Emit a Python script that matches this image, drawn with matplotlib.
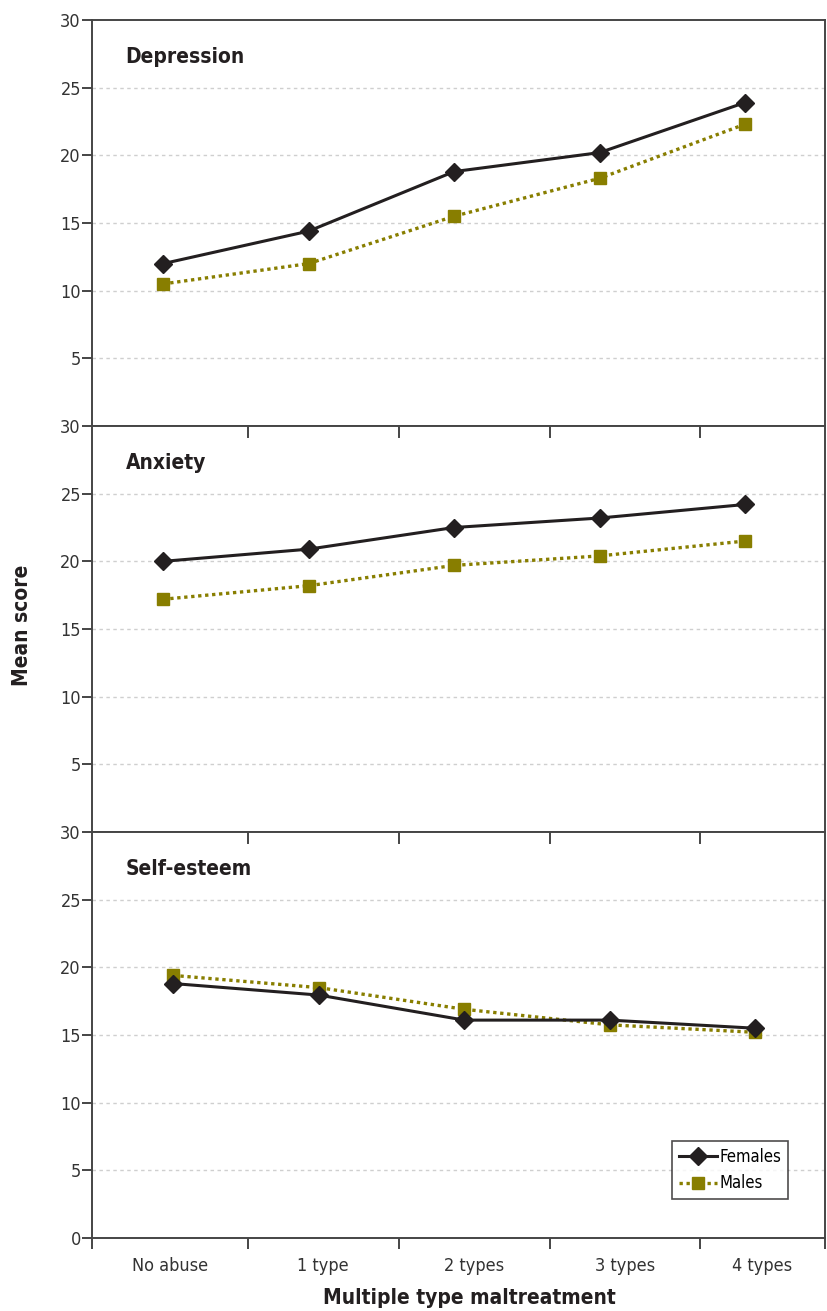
# Mean scores by number of maltreatment types, females vs males, three stacked panels

import matplotlib
matplotlib.use("Agg")
import matplotlib.pyplot as plt

plt.rcParams["font.family"] = ["DejaVu Sans"]
plt.rcParams["font.stretch"] = "condensed"

# --- Data ---
categories = ["No abuse", "1 type", "2 types", "3 types", "4 types"]
panels = ["Depression", "Anxiety", "Self-esteem"]

depression_f = [12.0, 14.4, 18.8, 20.2, 23.9]
depression_m = [10.5, 12.0, 15.5, 18.3, 22.3]
anxiety_f = [20.0, 20.9, 22.5, 23.2, 24.2]
anxiety_m = [17.2, 18.2, 19.7, 20.4, 21.5]
selfesteem_f = [18.8, 17.95, 16.1, 16.1, 15.5]
selfesteem_m = [19.4, 18.5, 16.9, 15.75, 15.2]

females = [depression_f, anxiety_f, selfesteem_f]
males = [depression_m, anxiety_m, selfesteem_m]

# --- Style ---
BLACK = "#231f20"
OLIVE = "#887e00"
SPINE = "#454545"
GRID = "#cfcfcf"

XLIM = (-0.49, 4.55)
# category boundaries (ticks) and label centres
bounds = [XLIM[0], 0.58, 1.62, 2.66, 3.69, XLIM[1]]
centres = [(a + b) / 2 for a, b in zip(bounds[:-1], bounds[1:])]
x_shift = [0.0, 0.0, 0.07]  # bottom panel points sit a touch to the right

fig = plt.figure(figsize=(8.27, 13.11), dpi=100)
top, bottom, left, right = 1 - 20 / 1311, 1 - 1238 / 1311, 92 / 827, 825 / 827
h = (top - bottom) / 3

axes = []
for i in range(3):
    ax = fig.add_axes([left, top - (i + 1) * h, right - left, h])
    axes.append(ax)

for i, ax in enumerate(axes):
    xs = [k + x_shift[i] for k in range(len(categories))]
    ax.plot(xs, males[i], color=OLIVE, lw=2.4, linestyle=(0, (1, 1.1)),
            marker="s", markersize=8.8, markeredgecolor=OLIVE, markerfacecolor=OLIVE,
            label="Males", zorder=3)
    ax.plot(xs, females[i], color=BLACK, lw=2.2, linestyle="-",
            marker="D", markersize=9.5, markeredgecolor=BLACK, markerfacecolor=BLACK,
            label="Females", zorder=4)

    ax.set_xlim(*XLIM)
    ax.set_ylim(0, 30)

    # horizontal dotted grid
    for g in [5, 10, 15, 20, 25]:
        ax.axhline(g, color=GRID, lw=1.0, linestyle=(0, (2.5, 2.5)), zorder=1)

    for s in ax.spines.values():
        s.set_color(SPINE)
        s.set_linewidth(1.4)

    # y axis
    yt = [0, 5, 10, 15, 20, 25, 30] if i == 2 else [5, 10, 15, 20, 25, 30]
    ax.set_yticks(yt)
    ax.tick_params(axis="y", direction="out", length=7, width=1.4, color=SPINE,
                   labelsize=13, labelcolor="#333333", pad=1)

    # x axis: boundary ticks as major, labels on minor
    ax.set_xticks(bounds)
    ax.set_xticklabels([])
    ax.set_xticks(centres, minor=True)
    if i == 2:
        ax.set_xticklabels(categories, minor=True)
        ax.tick_params(axis="x", which="major", direction="out", length=8, width=1.4,
                       color=SPINE, top=False, bottom=True)
        ax.tick_params(axis="x", which="minor", length=0, labelsize=13,
                       labelcolor="#333333", pad=14)
    else:
        ax.tick_params(axis="x", which="minor", length=0, labelbottom=False)
        ax.tick_params(axis="x", which="major", bottom=False, top=False)
    if i > 0:
        # inward boundary ticks at the top edge of lower panels
        for b in bounds[1:-1]:
            ax.plot([b, b], [30, 29.2], color=SPINE, lw=1.4, clip_on=False, zorder=5)

    ax.text(0.046, 0.91, panels[i], transform=ax.transAxes, fontsize=15,
            fontweight="bold", color=BLACK, va="center", ha="left")

# legend in bottom panel
leg = axes[2].legend(handles=axes[2].get_lines()[:2][::-1], labels=["Females", "Males"],
                     loc="lower right", bbox_to_anchor=(0.9495, 0.096), borderaxespad=0,
                     fontsize=12, frameon=True, fancybox=False, edgecolor=BLACK,
                     handlelength=2.3, handletextpad=0.15, borderpad=0.4,
                     labelspacing=0.5)
leg.get_frame().set_linewidth(1.2)

fig.text(0.027, 0.523, "Mean score", rotation=90, fontsize=15, fontweight="bold",
         color=BLACK, ha="center", va="center")
fig.text(0.568, 0.0099, "Multiple type maltreatment", fontsize=15, fontweight="bold",
         color=BLACK, ha="center", va="center")

fig.savefig("out.png", dpi=100)
